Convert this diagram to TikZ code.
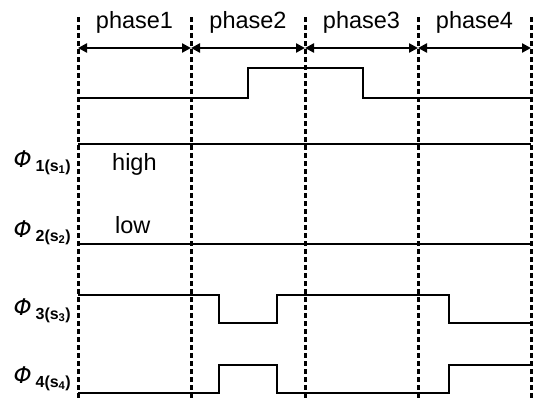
\documentclass[tikz,border=0pt]{standalone}
\usepackage{fontspec}
\setmainfont{Liberation Sans}
\newfontfamily\phifont{DejaVu Sans}
\usetikzlibrary{arrows.meta}

\newcommand{\siglabel}[1]{{\phifont\itshape\fontsize{23}{23}\selectfont Φ}\hspace{4pt}\raisebox{-4pt}{\bfseries\fontsize{16}{16}\selectfont #1(s\textsubscript{#1})}}

\begin{document}
\begin{tikzpicture}[x=1pt,y=-1pt,
  wave/.style={line width=2.7pt, line join=miter},
  guide/.style={line width=3pt, dash pattern=on 5pt off 3pt},
  span/.style={line width=2.5pt, {Triangle[length=9pt,width=9pt]}-{Triangle[length=9pt,width=9pt]}},
  lbl/.style={font=\fontsize{23.5}{23.5}\selectfont, inner sep=0pt, anchor=base},
  sig/.style={inner sep=0pt, anchor=base east}
]
\useasboundingbox (0,0) rectangle (533,399);

% phase boundaries
\foreach \i/\x in {0/78,1/191,2/305,3/418,4/531} {
  \coordinate (t\i) at (\x,17);
  \coordinate (b\i) at (\x,399);
  \coordinate (a\i) at (\x,48);
  \draw[guide] (t\i) -- (b\i);
}

% phase spans
\foreach \i/\j in {0/1,1/2,2/3,3/4} {
  \draw[span] (a\i) -- (a\j);
}

% phase titles
\node[lbl] (p1) at (134.5,28) {phase1};
\node[lbl] (p2) at (248,28) {phase2};
\node[lbl] (p3) at (361.5,28) {phase3};
\node[lbl] (p4) at (474.5,28) {phase4};

% reference waveform
\draw[wave] (78,98) -- (248,98) -- (248,68) -- (363,68) -- (363,98) -- (531,98);

% phi1 and phi2
\draw[wave] (78,144) -- (531,144);
\draw[wave] (78,244) -- (531,244);

% phi3
\draw[wave] (78,295) -- (219,295) -- (219,323) -- (277,323) -- (277,295)
  -- (449,295) -- (449,323) -- (531,323);

% phi4
\draw[wave] (78,393) -- (219,393) -- (219,365) -- (277,365) -- (277,393)
  -- (449,393) -- (449,365) -- (531,365);

% level notes
\node[lbl, anchor=base west] (hi) at (112,170) {high};
\node[lbl, anchor=base west] (lo) at (115,233) {low};

% signal names
\node[sig] (s1) at (71,167) {\siglabel{1}};
\node[sig] (s2) at (71,237) {\siglabel{2}};
\node[sig] (s3) at (71,315) {\siglabel{3}};
\node[sig] (s4) at (71,383) {\siglabel{4}};
\end{tikzpicture}
\end{document}
